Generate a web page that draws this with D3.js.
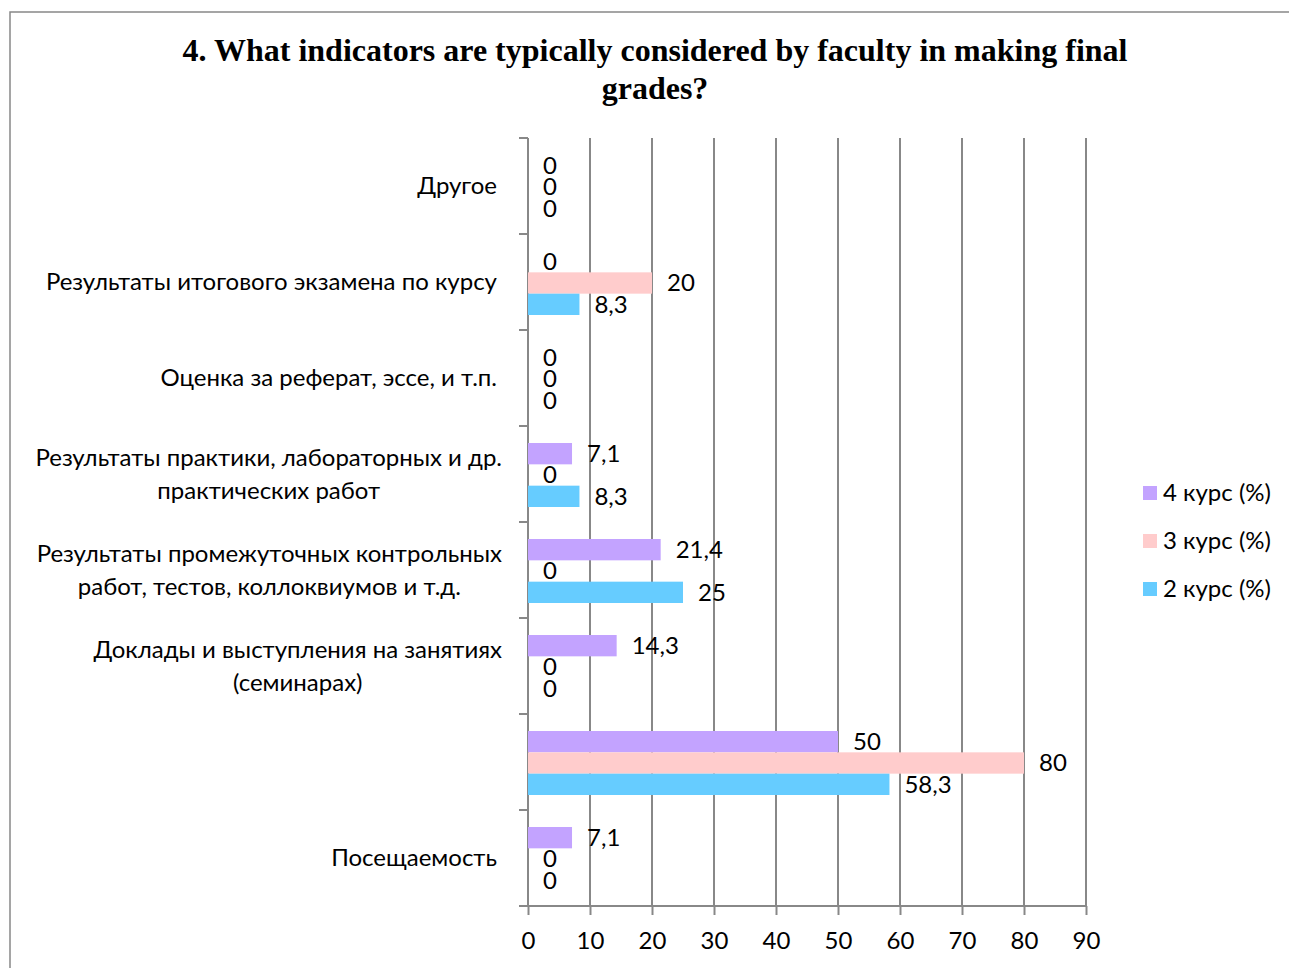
<!DOCTYPE html>
<html>
<head>
<meta charset="utf-8">
<script src="https://cdn.jsdelivr.net/npm/d3@7"></script>
<style>
  body { margin: 0; background: #fff; }
  svg { display: block; }
</style>
</head>
<body>
<div id="chart"></div>
<script>
// categories top to bottom, "\n" marks a line break in the label
const categories = [
  "Другое",
  "Результаты итогового экзамена по курсу",
  "Оценка за реферат, эссе, и т.п.",
  "Результаты практики, лабораторных и др.\nпрактических работ",
  "Результаты промежуточных контрольных\nработ, тестов, коллоквиумов и т.д.",
  "Доклады и выступления на занятиях\n(семинарах)",
  "",
  "Посещаемость"
];

const seriesNames = ["4 курс (%)", "3 курс (%)", "2 курс (%)"];
const seriesColors = ["#c3a3ff", "#ffcccc", "#66ccff"];

const kurs4 = [0, 0, 0, 7.1, 21.4, 14.3, 50, 7.1];
const kurs3 = [0, 20, 0, 0, 0, 0, 80, 0];
const kurs2 = [0, 8.3, 0, 8.3, 25, 0, 58.3, 0];

const xTicks = [0, 10, 20, 30, 40, 50, 60, 70, 80, 90];

const titleLines = [
  "4. What indicators are typically considered by faculty in making final",
  "grades?"
];

const width = 1289, height = 968;
const labelFont = "Lato, 'Open Sans', sans-serif";
const labelSize = "24px";

const svg = d3.select("#chart")
  .append("svg")
  .attr("width", width)
  .attr("height", height);

// chart frame (runs off the right and bottom edges)
svg.append("rect")
  .attr("x", 10).attr("y", 12)
  .attr("width", 1300).attr("height", 1000)
  .attr("fill", "#fff")
  .attr("stroke", "#888")
  .attr("stroke-width", 1.5);

// title
svg.append("g")
  .selectAll("text")
  .data(titleLines)
  .join("text")
  .attr("x", 655)
  .attr("y", (d, i) => 61 + i * 38)
  .attr("text-anchor", "middle")
  .style("font-family", "'Liberation Serif', 'Times New Roman', serif")
  .style("font-weight", "bold")
  .style("font-size", "32px")
  .text(d => d);

// scales
const x = d3.scaleLinear().domain([0, 90]).range([528, 1086]);
const y = d3.scaleBand().domain(d3.range(categories.length)).range([138, 906]);
const ySeries = d3.scaleBand().domain(d3.range(seriesNames.length)).range([17, 81]);

const rows = categories.map((c, i) => ({
  i,
  values: [kurs4[i], kurs3[i], kurs2[i]]
}));

// vertical gridlines
svg.append("g")
  .selectAll("line")
  .data(xTicks.slice(1))
  .join("line")
  .attr("x1", d => x(d)).attr("x2", d => x(d))
  .attr("y1", y.range()[0]).attr("y2", y.range()[1])
  .attr("stroke", "#888")
  .attr("stroke-width", 2);

// bottom axis
const xAxis = svg.append("g")
  .attr("transform", `translate(0,${y.range()[1]})`)
  .call(d3.axisBottom(x).tickValues(xTicks).tickSize(9).tickPadding(17).tickSizeOuter(0));
xAxis.select(".domain").remove();
xAxis.selectAll(".tick line").attr("stroke", "#888").attr("stroke-width", 2);
xAxis.selectAll(".tick text")
  .style("font-family", labelFont)
  .style("font-size", labelSize)
  .attr("fill", "#000");
xAxis.append("line")
  .attr("x1", 519).attr("x2", x(90))
  .attr("stroke", "#888").attr("stroke-width", 2);

// left axis with ticks between categories
const yEdges = d3.range(categories.length + 1).map(i => y.range()[0] + i * y.step());
const yAxis = svg.append("g");
yAxis.append("line")
  .attr("x1", x(0)).attr("x2", x(0))
  .attr("y1", y.range()[0]).attr("y2", y.range()[1])
  .attr("stroke", "#888").attr("stroke-width", 2);
yAxis.selectAll(".ytick")
  .data(yEdges)
  .join("line")
  .attr("class", "ytick")
  .attr("x1", x(0) - 9).attr("x2", x(0))
  .attr("y1", d => d).attr("y2", d => d)
  .attr("stroke", "#888").attr("stroke-width", 2);

// bars
const groups = svg.append("g")
  .selectAll("g")
  .data(rows)
  .join("g")
  .attr("transform", d => `translate(0,${y(d.i)})`);

groups.selectAll("rect")
  .data(d => d.values)
  .join("rect")
  .attr("x", x(0))
  .attr("y", (d, j) => ySeries(j))
  .attr("width", d => x(d) - x(0))
  .attr("height", ySeries.bandwidth())
  .attr("fill", (d, j) => seriesColors[j]);

// value labels
const fmt = v => String(v).replace(".", ",");
groups.selectAll("text")
  .data(d => d.values)
  .join("text")
  .attr("x", d => x(d) + 15)
  .attr("y", (d, j) => ySeries(j) + ySeries.bandwidth() / 2)
  .attr("dy", "0.35em")
  .style("font-family", labelFont)
  .style("font-size", labelSize)
  .text(d => fmt(d));

// category labels, lines centred within a right-aligned block
const catG = svg.append("g");
rows.forEach(r => {
  const lines = categories[r.i] ? categories[r.i].split("\n") : [];
  if (!lines.length) return;
  const lh = 33;
  const cy = y(r.i) + y.bandwidth() / 2;
  const t = catG.append("g");
  const texts = t.selectAll("text")
    .data(lines)
    .join("text")
    .attr("y", (d, k) => cy + (k - (lines.length - 1) / 2) * lh)
    .attr("dy", "0.35em")
    .attr("text-anchor", "middle")
    .style("font-family", labelFont)
    .style("font-size", labelSize)
    .text(d => d);
  const maxW = d3.max(texts.nodes(), n => n.getComputedTextLength());
  const right = lines.length > 1 ? 502 : 497;
  texts.attr("x", right - maxW / 2);
});

// legend
const legend = svg.append("g")
  .selectAll("g")
  .data(seriesNames)
  .join("g")
  .attr("transform", (d, i) => `translate(1143,${493 + i * 48})`);
legend.append("rect")
  .attr("x", 0).attr("y", -7)
  .attr("width", 14).attr("height", 14)
  .attr("fill", (d, i) => seriesColors[i]);
legend.append("text")
  .attr("x", 20)
  .attr("dy", "0.35em")
  .style("font-family", labelFont)
  .style("font-size", labelSize)
  .text(d => d);
</script>
</body>
</html>
